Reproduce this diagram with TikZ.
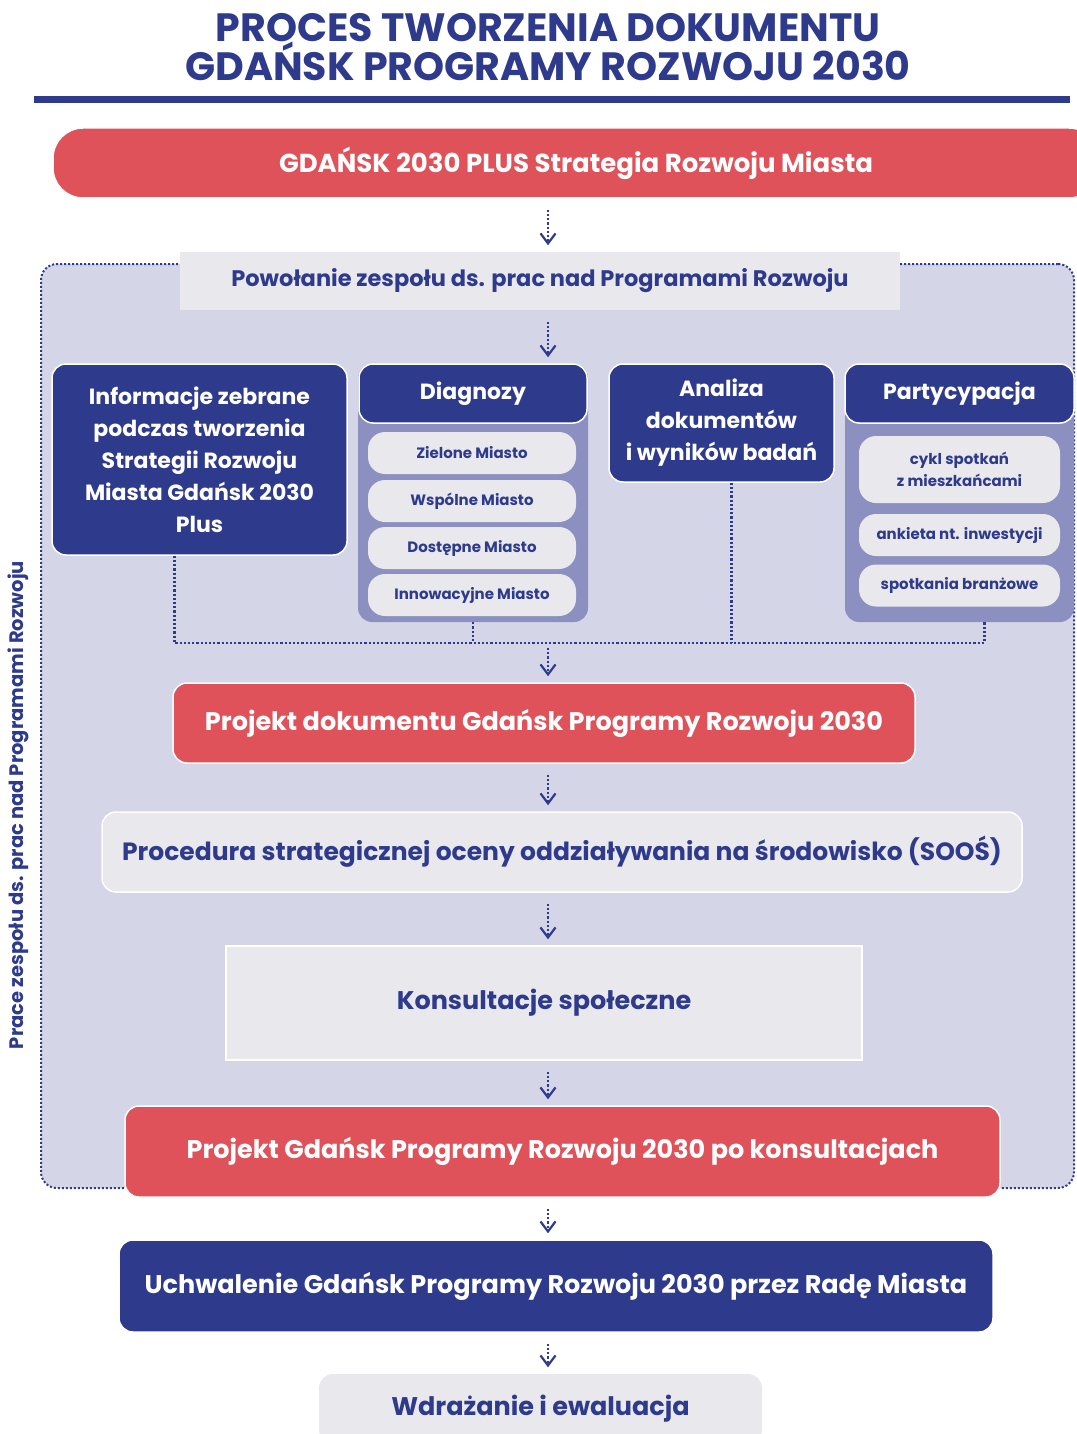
\documentclass[tikz,border=0pt]{standalone}
\usepackage{fontspec}
\setmainfont{Poppins}
\usetikzlibrary{arrows.meta}
\definecolor{gdnavy}{HTML}{2E3A8C}
\definecolor{gdred}{HTML}{E0525A}
\definecolor{gdpanel}{HTML}{D4D6E8}
\definecolor{gdgroup}{HTML}{8B90C0}
\definecolor{gdgray}{HTML}{E9E9ED}
\tikzset{
  stage/.style={draw=white,line width=1.5pt,rounded corners=14pt,align=center,inner sep=0pt,
    font=\bfseries\fontsize{25.5}{32}\selectfont},
  redstage/.style={stage,fill=gdred,text=white},
  bluestage/.style={stage,fill=gdnavy,text=white},
  graystage/.style={stage,fill=gdgray,text=gdnavy},
  small/.style={font=\bfseries\fontsize{22}{32}\selectfont},
  group/.style={fill=gdgroup,rounded corners=14pt,inner sep=0pt},
  pill/.style={fill=gdgray,text=gdnavy,rounded corners=17pt,align=center,inner sep=0pt,
    font=\bfseries\fontsize{15}{22}\selectfont},
  flow/.style={gdnavy,line width=2.2pt,dotted,shorten <=11pt,shorten >=6pt,
    -{Straight Barb[length=10pt,width=15pt,line width=2.2pt]}},
  bus/.style={gdnavy,line width=2.2pt,dotted}
}
\begin{document}
\begin{tikzpicture}[x=1pt,y=-1pt]
\useasboundingbox[fill=white](0,0)rectangle(1076,1434);
% title
\node[text=gdnavy,align=center,font=\bfseries\fontsize{39.5}{38}\selectfont](title)at(548,47)
  {PROCES TWORZENIA DOKUMENTU\\GDAŃSK PROGRAMY ROZWOJU 2030};
\draw[gdnavy,line width=7pt](34,100)--(1070,100);
\node[redstage,rounded corners=30pt,minimum width=1046,minimum height=70,
  font=\bfseries\fontsize{26}{30}\selectfont](strat)at(576,163)
  {GDAŃSK 2030 PLUS Strategia Rozwoju Miasta};
% team panel
\node[draw=gdnavy,dotted,line width=2pt,fill=gdpanel,rounded corners=16pt,
  minimum width=1033,minimum height=924,anchor=north west](team)at(40,263){};
\node[rotate=90,text=gdnavy,font=\bfseries\fontsize{19.5}{22}\selectfont](teamlabel)at(18,805)
  {Prace zespołu ds. prac nad Programami Rozwoju};
\node[graystage,draw=none,rounded corners=0pt,minimum width=720,minimum height=58,
  font=\bfseries\fontsize{22.5}{28}\selectfont](setup)at(540,281)
  {Powołanie zespołu ds. prac nad Programami Rozwoju};
% sources
\node[bluestage,small,minimum width=295,minimum height=191](info)at(199.5,459.5)
  {Informacje zebrane\\podczas tworzenia\\Strategii Rozwoju\\Miasta Gdańsk 2030\\Plus};
\node[group,minimum width=230,minimum height=258](diag)at(473,493){};
\node[bluestage,small,minimum width=228,minimum height=59](diaghead)at(473,393.5){Diagnozy};
\node[pill,minimum width=208,minimum height=42](green)at(472,453){Zielone Miasto};
\node[pill,minimum width=208,minimum height=42](common)at(472,501){Wspólne Miasto};
\node[pill,minimum width=208,minimum height=42](access)at(472,548){Dostępne Miasto};
\node[pill,minimum width=208,minimum height=42](innov)at(472,595){Innowacyjne Miasto};
\node[bluestage,small,minimum width=225,minimum height=118](anal)at(721.5,423)
  {Analiza\\dokumentów\\i wyników badań};
\node[group,minimum width=229,minimum height=258](partic)at(959.5,493){};
\node[bluestage,small,minimum width=229,minimum height=59](partichead)at(959.5,393.5){Partycypacja};
\node[pill,minimum width=201,minimum height=67](meet)at(959.5,469.5){cykl spotkań\\z mieszkańcami};
\node[pill,minimum width=201,minimum height=42](survey)at(959.5,535){ankieta nt. inwestycji};
\node[pill,minimum width=201,minimum height=42](branch)at(959.5,585.5){spotkania branżowe};
% collector
\coordinate(axis)at(548,643);
\draw[bus]([xshift=-25pt]info.south)|-(axis)-|([xshift=25pt]partic.south);
\draw[bus](diag.south)--(diag.south|-axis);
\draw[bus]([xshift=10pt]anal.south)--([xshift=10pt]anal.south|-axis);
% process
\node[redstage,minimum width=742,minimum height=80](draft)at(544,723)
  {Projekt dokumentu Gdańsk Programy Rozwoju 2030};
\node[graystage,minimum width=920,minimum height=80,
  font=\bfseries\fontsize{25}{30}\selectfont](sea)at(562,852)
  {Procedura strategicznej oceny oddziaływania na środowisko (SOOŚ)};
\node[graystage,rounded corners=0pt,minimum width=636,minimum height=114](consult)at(544,1003)
  {Konsultacje społeczne};
\node[redstage,minimum width=875,minimum height=91](final)at(562.5,1151.5)
  {Projekt Gdańsk Programy Rozwoju 2030 po konsultacjach};
\node[bluestage,minimum width=874,minimum height=92](adopt)at(556,1286)
  {Uchwalenie Gdańsk Programy Rozwoju 2030 przez Radę Miasta};
\node[graystage,draw=none,minimum width=443,minimum height=70](impl)at(540.5,1409)
  {Wdrażanie i ewaluacja};
% arrows
\draw[flow](strat.south-|axis)--(setup.north-|axis);
\draw[flow](setup.south-|axis)--(diaghead.north-|axis);
\draw[flow,shorten <=5pt](axis)--(draft.north-|axis);
\draw[flow](draft.south-|axis)--(sea.north-|axis);
\draw[flow](sea.south-|axis)--(consult.north-|axis);
\draw[flow](consult.south-|axis)--(final.north-|axis);
\draw[flow](final.south-|axis)--(adopt.north-|axis);
\draw[flow](adopt.south-|axis)--(impl.north-|axis);
\end{tikzpicture}
\end{document}
